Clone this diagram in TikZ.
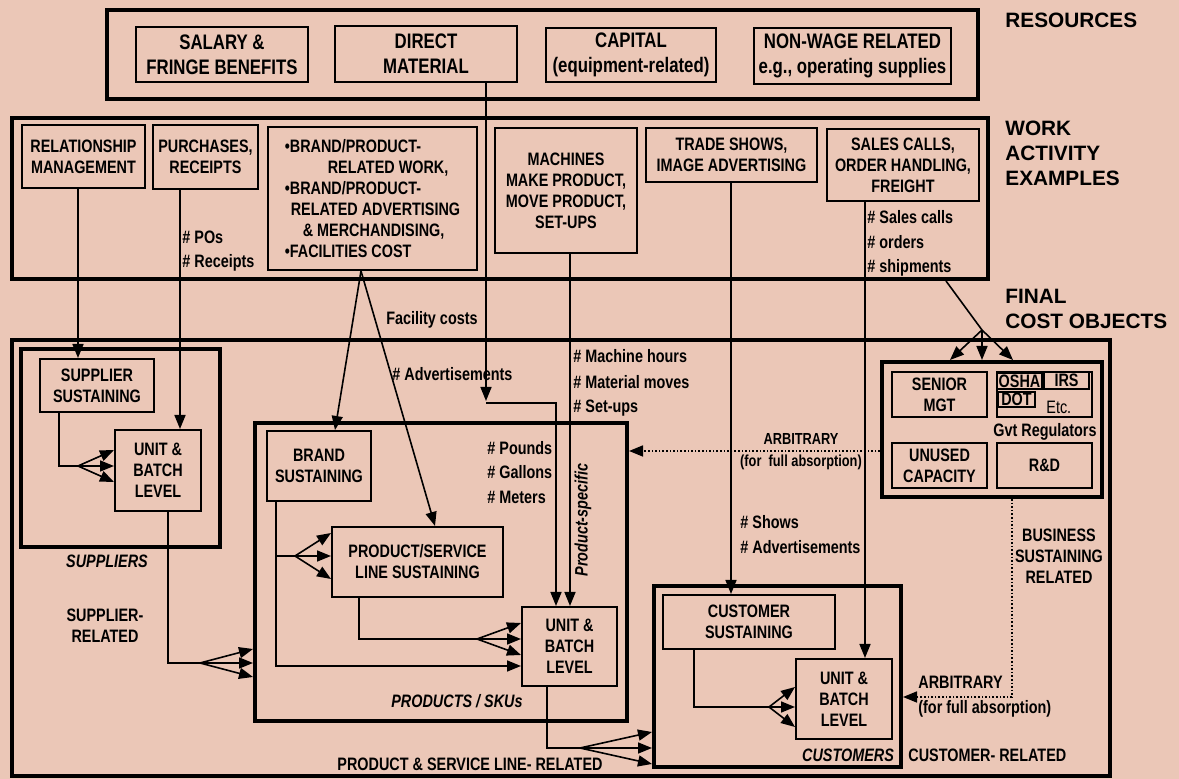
\documentclass[tikz,border=0pt]{standalone}
\usepackage{fontspec}
\setmainfont{Liberation Sans}[FakeStretch=0.8]
\newfontfamily\headfam{Liberation Sans}
\usetikzlibrary{arrows.meta, calc, fit}
\definecolor{peach}{RGB}{235,199,183}
\newcommand\boxfnt{\fontsize{9}{10.5}\selectfont\bfseries}
\newcommand\resfnt{\fontsize{10.5}{12.5}\selectfont\bfseries}
\newcommand\headfnt{\headfam\fontsize{10.4}{12.5}\selectfont\bfseries}
% framed box spanning two corners, text centred in it
\newcommand\tbox[4][]{\node[box, fit={#3}] (#2) {}; \node[txt,#1] (#2-t) at (#2.center) {#4};}
% three arrows fanning out from #1 into the left side of #2
\newcommand\fanin[3]{\foreach \dy in {-#3,0,#3}{\draw[arr] (#1) -- ($(#2.west |- #1)+(0,\dy)$);}}

\begin{document}
\begin{tikzpicture}[x=0.5pt, y=-0.5pt,
  grp/.style={draw, line width=2pt, inner sep=0pt},
  box/.style={draw, line width=1pt, inner sep=0pt},
  txt/.style={inner sep=0pt, align=center, font=\boxfnt},
  lbl/.style={inner sep=0pt, font=\boxfnt},
  head/.style={inner sep=0pt, align=left, anchor=north west, font=\headfnt},
  ln/.style={line width=0.8pt},
  arr/.style={ln, -{Triangle[length=7pt,width=5.5pt]}},
  darr/.style={arr, densely dotted}]
  \fill[peach] (0,0) rectangle (1179,779);
  \useasboundingbox (0,0) rectangle (1179,779);

  % resources
  \node[grp, fit={(107,10)(978,99)}] (res) {};
  \tbox[font=\resfnt]{salary}{(136,27)(308,82)}{SALARY \&\\FRINGE BENEFITS}
  \tbox[font=\resfnt]{dmat}{(335,26)(517,82)}{DIRECT\\MATERIAL}
  \tbox[font=\resfnt]{capital}{(546,28)(716,82)}{CAPITAL\\(equipment-related)}
  \tbox[font=\resfnt]{nonwage}{(754,28)(951,84)}{NON-WAGE RELATED\\e.g., operating supplies}
  \node[head] (hres) at (1005,13) {RESOURCES};

  % work activities
  \node[grp, fit={(12,118)(988,279)}] (work) {};
  \tbox{rel}{(22,125)(145,188)}{RELATIONSHIP\\MANAGEMENT}
  \tbox{purch}{(153,125)(258,189)}{PURCHASES,\\RECEIPTS}
  \tbox[align=left]{brand}{(268,127)(477,270)}{•BRAND/PRODUCT-\\\hspace*{21.5pt}RELATED WORK,\\•BRAND/PRODUCT-\\\hspace*{3pt}RELATED ADVERTISING\\\hspace*{9pt}\& MERCHANDISING,\\•FACILITIES COST}
  \tbox{mach}{(495,128)(637,253)}{MACHINES\\MAKE PRODUCT,\\MOVE PRODUCT,\\SET-UPS}
  \tbox{trade}{(646,128)(817,182)}{TRADE SHOWS,\\IMAGE ADVERTISING}
  \tbox{sales}{(827,129)(979,201)}{SALES CALLS,\\ORDER HANDLING,\\FREIGHT}
  \node[head] (hwork) at (1005,121) {WORK\\ACTIVITY\\EXAMPLES};

  % final cost objects
  \node[grp, fit={(12,340)(1110,776)}] (fco) {};
  \node[head] (hfco) at (1005,289) {FINAL\\COST OBJECTS};

  \node[grp, fit={(21,349)(220,547)}] (sup) {};
  \tbox{ssus}{(40,359)(154,412)}{SUPPLIER\\SUSTAINING}
  \tbox{sunit}{(115,430)(201,511)}{UNIT \&\\BATCH\\LEVEL}

  \node[grp, fit={(255,423)(627,721)}] (prod) {};
  \tbox{bsus}{(267,431)(371,501)}{BRAND\\SUSTAINING}
  \tbox{psl}{(332,527)(503,597)}{PRODUCT/SERVICE\\LINE SUSTAINING}
  \tbox{punit}{(522,607)(617,686)}{UNIT \&\\BATCH\\LEVEL}

  \node[grp, fit={(654,586)(901,767)}] (cust) {};
  \tbox{csus}{(663,595)(835,649)}{CUSTOMER\\SUSTAINING}
  \tbox{cunit}{(796,659)(892,739)}{UNIT \&\\BATCH\\LEVEL}

  \node[grp, fit={(882,362)(1102,497)}] (fcoin) {};
  \tbox{senior}{(892,372)(987,417)}{SENIOR\\MGT}
  \node[box, fit={(997,372)(1092,417)}] (gvt) {};
  \tbox{osha}{(997,373)(1042,389)}{OSHA}
  \tbox{irs}{(1044,372)(1089,389)}{IRS}
  \tbox{dot}{(998,392)(1035,407)}{DOT}
  \node[lbl, font=\boxfnt\mdseries, anchor=base west] (etc) at (1046,414) {Etc.};
  \node[lbl, anchor=base] (gvtlbl) at (1045,437) {Gvt Regulators};
  \tbox{unused}{(892,443)(987,488)}{UNUSED\\CAPACITY}
  \tbox{rnd}{(997,443)(1092,488)}{R\&D}

  % connector columns and fan points
  \coordinate (xrel) at (78,0);
  \coordinate (xpur) at (180,0);
  \coordinate (xss) at (59,0);
  \coordinate (xsu) at (168,0);
  \coordinate (xbr) at (361,0);
  \coordinate (xbs) at (335,0);
  \coordinate (xps) at (435,0);
  \coordinate (xdm) at (486,0);
  \coordinate (xma) at (570,0);
  \coordinate (xtr) at (731,0);
  \coordinate (xsa) at (865,0);
  \coordinate (xb2) at (276,0);
  \coordinate (xpl) at (359,0);
  \coordinate (xpu) at (547,0);
  \coordinate (xcs) at (694,0);
  \coordinate (xwk) at (946,0);
  \coordinate (xgv) at (1012,0);
  \coordinate (ya1) at (0,451);
  \coordinate (ya2) at (0,697);
  \coordinate (yb) at (0,666);
  \coordinate (dm) at (486,401);
  \coordinate (mt) at (556,403);
  \coordinate (f1) at (78,466);
  \coordinate (f2) at (200,663);
  \coordinate (f3) at (295,556);
  \coordinate (f4) at (477,639);
  \coordinate (f5) at (580,748);
  \coordinate (f6) at (769,707);
  \coordinate (f7) at (982,330);

  % suppliers
  \draw[arr] (rel.south -| xrel) -- (ssus.north -| xrel);
  \draw[arr] (purch.south -| xpur) -- (sunit.north -| xpur);
  \draw[ln] (ssus.south -| xss) |- (f1);
  \fanin{f1}{sunit}{16}
  \draw[ln] (sunit.south -| xsu) |- (f2);
  \fanin{f2}{prod}{14}

  % products
  \draw[arr] (brand.south -| xbr) -- (bsus.north -| xbs);
  \draw[arr] (brand.south -| xbr) -- (psl.north -| xps);
  \draw[arr] (dmat.south -| xdm) -- (dm);
  \draw[arr] (dm |- mt) -- (mt) -- (punit.north -| mt);
  \draw[arr] (mach.south -| xma) -- (punit.north -| xma);
  \draw[arr] (bsus.south -| xb2) |- (punit.west |- yb);
  \draw[ln] (f3 -| xb2) -- (f3);
  \fanin{f3}{psl}{23}
  \draw[ln] (psl.south -| xpl) |- (f4);
  \fanin{f4}{punit}{16}
  \draw[ln] (punit.south -| xpu) |- (f5);
  \fanin{f5}{cust}{16}

  % customers
  \draw[arr] (trade.south -| xtr) -- (csus.north -| xtr);
  \draw[arr] (sales.south -| xsa) -- (cunit.north -| xsa);
  \draw[ln] (csus.south -| xcs) |- (f6);
  \fanin{f6}{cunit}{20}

  % business sustaining
  \draw[ln] (work.south -| xwk) -- (f7);
  \foreach \tx in {950,982,1013} \draw[arr] (f7) -- (fcoin.north -| \tx,0);
  \draw[darr] (fcoin.west |- ya1) -- (prod.east |- ya1);
  \draw[darr] (fcoin.south -| xgv) |- (cust.east |- ya2);

  % drivers and labels
  \node[lbl, anchor=base west] (pos) at (182,244) {\# POs};
  \node[lbl, anchor=base west] (rcpt) at (182,268) {\# Receipts};
  \node[lbl, anchor=base west] (scalls) at (867,224) {\# Sales calls};
  \node[lbl, anchor=base west] (orders) at (867,249) {\# orders};
  \node[lbl, anchor=base west] (ships) at (867,273) {\# shipments};
  \node[lbl, anchor=base] (facil) at (432,325) {Facility costs};
  \node[lbl, anchor=base west] (advp) at (392,381) {\# Advertisements};
  \node[lbl, anchor=base west] (mhrs) at (573,363) {\# Machine hours};
  \node[lbl, anchor=base west] (mmov) at (573,389) {\# Material moves};
  \node[lbl, anchor=base west] (setup) at (573,413) {\# Set-ups};
  \node[lbl, anchor=base west] (pnds) at (487,455) {\# Pounds};
  \node[lbl, anchor=base west] (gals) at (487,479) {\# Gallons};
  \node[lbl, anchor=base west] (mtrs) at (487,504) {\# Meters};
  \node[lbl, font=\boxfnt\itshape, rotate=90] (pspec) at (583,520) {Product-specific};
  \node[lbl, font=\boxfnt\itshape, anchor=base] (plbl) at (457,708) {PRODUCTS / SKUs};
  \node[lbl, anchor=base] (prel) at (470,771) {PRODUCT \& SERVICE LINE- RELATED};
  \node[lbl, font=\boxfnt\itshape, anchor=base] (slbl) at (107,568) {SUPPLIERS};
  \node[lbl, align=center] (srel) at (105,626) {SUPPLIER-\\RELATED};
  \node[lbl, align=center, font=\fontsize{8}{11}\selectfont\bfseries] (arb1) at (801,452) {ARBITRARY\\(for~ full absorption)};
  \node[lbl, anchor=base west] (shows) at (740,529) {\# Shows};
  \node[lbl, anchor=base west] (advc) at (740,554) {\# Advertisements};
  \node[lbl, align=center] (brel) at (1059,556) {BUSINESS\\SUSTAINING\\RELATED};
  \node[lbl, anchor=base west] (arb2) at (918,689) {ARBITRARY};
  \node[lbl, anchor=base west] (arb2b) at (918,714) {(for full absorption)};
  \node[lbl, font=\boxfnt\itshape, anchor=base] (clbl) at (848,762) {CUSTOMERS};
  \node[lbl, anchor=base west] (crel) at (908,762) {CUSTOMER- RELATED};
\end{tikzpicture}
\end{document}
